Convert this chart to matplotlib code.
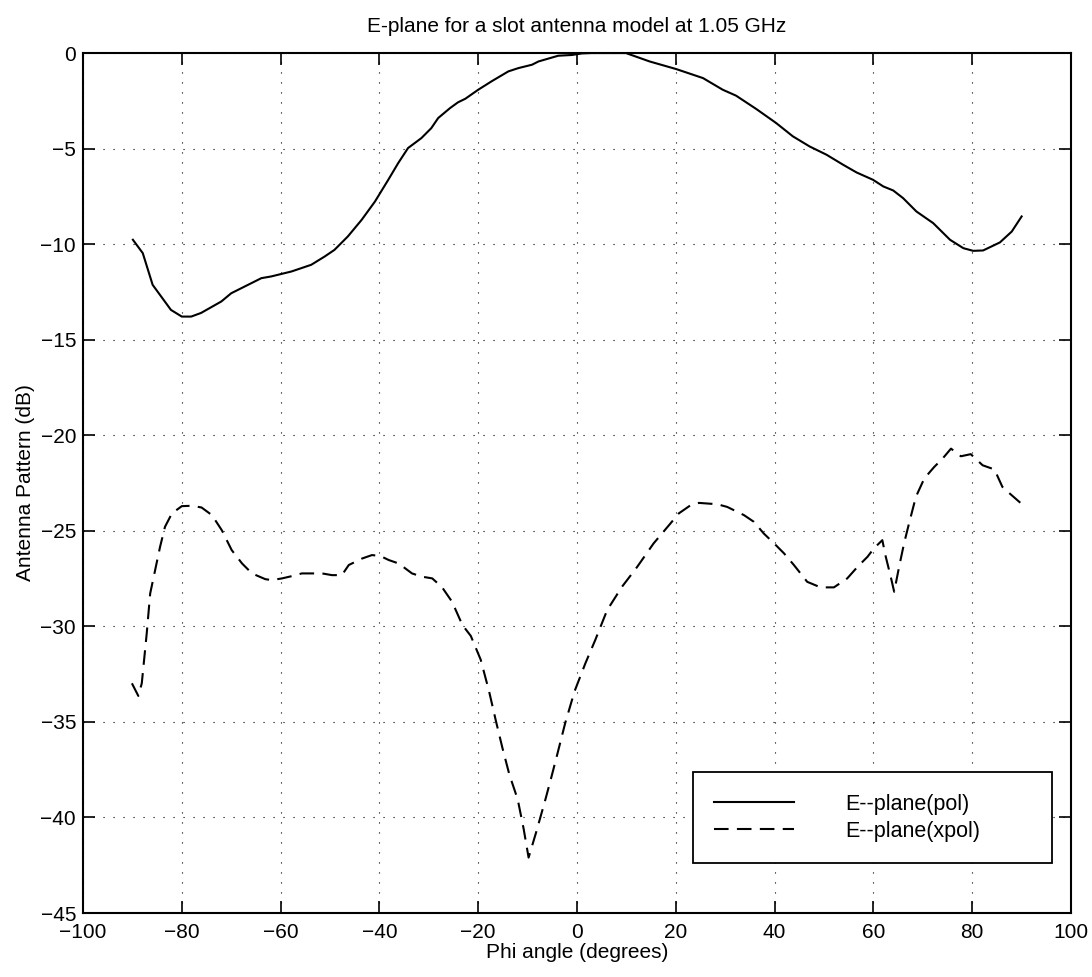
import matplotlib
matplotlib.use("Agg")
import matplotlib.pyplot as plt

# E-plane co-polar pattern (dB)
pol_phi = [-89.9, -87.9, -85.9, -82.2, -80.0, -78.1, -76.1, -72.0, -70.0, -63.9,
           -61.9, -57.8, -53.8, -51.1, -49.1, -46.4, -43.6, -40.9, -38.2, -36.2,
           -34.2, -31.5, -29.5, -28.1, -25.7, -24.1, -22.6, -20.0, -17.3, -13.9,
           -11.9, -9.1, -7.8, -3.8, -1.0, 1.0, 3.0, 9.9, 14.7, 20.1,
           25.5, 29.5, 32.2, 36.3, 40.3, 43.7, 47.1, 50.5, 53.9, 56.6,
           59.9, 62.0, 64.0, 66.0, 68.7, 72.1, 75.5, 78.2, 80.2, 82.2,
           85.6, 88.0, 90.0]
pol_db = [-9.77, -10.47, -12.13, -13.44, -13.79, -13.79, -13.60, -13.00, -12.57, -11.78,
          -11.69, -11.43, -11.08, -10.65, -10.30, -9.60, -8.73, -7.77, -6.63, -5.76,
          -4.97, -4.45, -3.93, -3.40, -2.88, -2.58, -2.39, -1.92, -1.48, -0.96,
          -0.79, -0.61, -0.44, -0.14, -0.10, -0.02, 0.0, 0.0, -0.44, -0.84,
          -1.31, -1.92, -2.23, -2.93, -3.66, -4.36, -4.89, -5.32, -5.85, -6.25,
          -6.63, -6.98, -7.19, -7.59, -8.29, -8.90, -9.77, -10.21, -10.35, -10.33,
          -9.91, -9.34, -8.55]

# cross-polar pattern (dB)
xpol_phi = [-90.1, -88.8, -88.1, -87.1, -86.4, -85.4, -84.4, -83.4, -82.0, -80.0,
            -78.0, -76.0, -73.9, -71.9, -69.9, -67.8, -65.8, -63.1, -61.8, -59.7,
            -57.7, -55.7, -51.6, -49.6, -47.6, -46.2, -43.5, -41.5, -39.8, -38.1,
            -36.1, -33.4, -31.4, -29.3, -27.3, -25.3, -23.2, -21.5, -19.5, -17.8,
            -16.4, -15.1, -13.7, -12.0, -10.8, -9.8, -8.3, -6.4, -5.3, -3.9,
            -2.4, -0.5, 1.7, 3.7, 6.1, 9.1, 12.2, 15.5, 18.9, 20.6,
            23.0, 24.7, 28.4, 30.4, 33.8, 35.8, 37.8, 39.9, 41.9, 43.9,
            46.6, 49.3, 52.0, 54.7, 56.8, 58.8, 60.1, 61.8, 62.5, 63.5,
            64.2, 65.2, 66.2, 67.2, 68.6, 70.3, 72.3, 74.0, 75.7, 77.7,
            79.7, 82.1, 84.5, 86.1, 87.2, 89.9]
xpol_db = [-32.98, -33.64, -32.98, -30.37, -28.28, -27.06, -25.84, -24.79, -24.09, -23.71,
           -23.69, -23.78, -24.18, -24.97, -26.01, -26.71, -27.23, -27.53, -27.58, -27.49,
           -27.37, -27.23, -27.23, -27.32, -27.32, -26.79, -26.45, -26.27, -26.32, -26.53,
           -26.71, -27.23, -27.40, -27.49, -27.96, -28.71, -29.93, -30.50, -31.74, -33.40,
           -34.97, -36.36, -37.75, -39.06, -40.60, -42.10, -40.80, -39.06, -38.00, -36.60,
           -35.07, -33.40, -31.93, -30.71, -29.15, -27.93, -26.88, -25.66, -24.62, -24.09,
           -23.66, -23.54, -23.61, -23.75, -24.18, -24.53, -25.14, -25.66, -26.18, -26.79,
           -27.67, -27.96, -27.96, -27.49, -26.88, -26.36, -25.92, -25.49, -26.36, -27.40,
           -28.19, -26.88, -25.66, -24.62, -23.22, -22.26, -21.66, -21.22, -20.70, -21.10,
           -20.99, -21.57, -21.79, -22.70, -22.96, -23.57]

x_ticks = list(range(-100, 101, 20))
y_ticks = list(range(-45, 1, 5))

plt.rcParams['font.family'] = ['Liberation Sans', 'DejaVu Sans']
plt.rcParams['font.size'] = 15

fig = plt.figure(figsize=(10.92, 9.77), dpi=100)
ax = fig.add_axes([0.076, 0.0655, 0.9048, 0.8802])

ax.plot(pol_phi, pol_db, color='black', lw=1.5, label='E--plane(pol)')
ax.plot(xpol_phi, xpol_db, color='black', lw=1.5, linestyle=(0, (7, 4)),
        label='E--plane(xpol)')

ax.set_xlim(-100, 100)
ax.set_ylim(-45, 0)
ax.set_xticks(x_ticks)
ax.set_yticks(y_ticks)
ax.grid(True, color='black', linestyle=(0, (1, 8)), lw=0.8)
ax.tick_params(direction='in', length=8.5, width=1.2, top=True, right=True,
               labelsize=15)
ax.tick_params(axis='x', pad=7)
ax.tick_params(axis='y', pad=5)
for sp in ax.spines.values():
    sp.set_linewidth(1.5)

ax.set_title('E-plane for a slot antenna model at 1.05 GHz', fontsize=15, pad=15)
ax.set_xlabel('Phi angle (degrees)', fontsize=15, labelpad=1)
ax.set_ylabel('Antenna Pattern (dB)', fontsize=15, labelpad=4)

leg = ax.legend(loc='upper left', bbox_to_anchor=(0.617, 0.164, 0.364, 0.0),
                mode='expand', fontsize=15.5, frameon=True, fancybox=False,
                handlelength=3.7, handletextpad=2.4, borderpad=1.0,
                labelspacing=0.3, borderaxespad=0)
leg.get_frame().set_edgecolor('black')
leg.get_frame().set_linewidth(1.3)
leg.get_frame().set_alpha(1)

fig.savefig('out.png', dpi=100)
